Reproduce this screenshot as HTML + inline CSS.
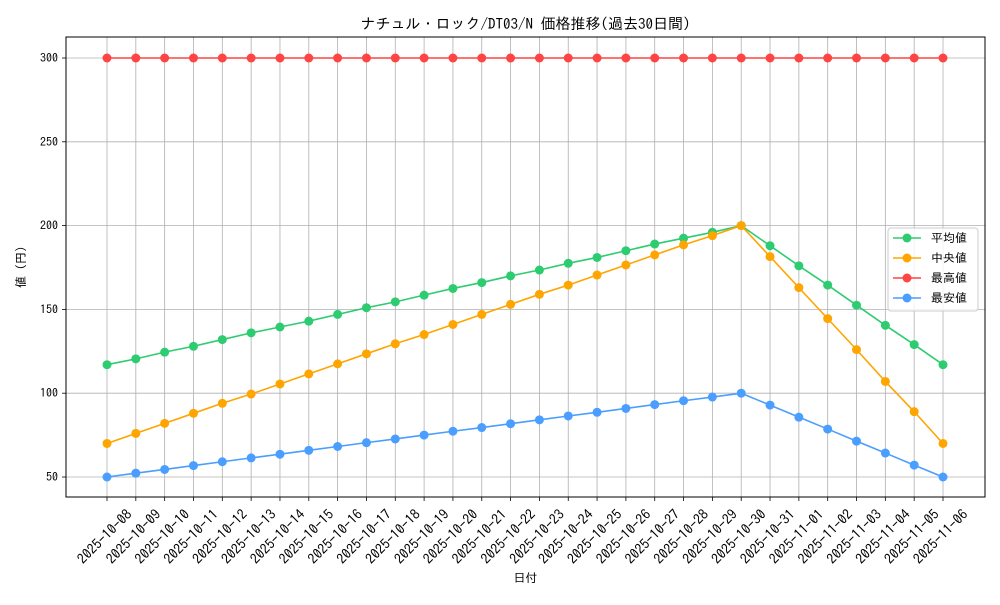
<!DOCTYPE html>
<html><head><meta charset="utf-8"><style>
body{margin:0;background:#fff;}
svg text{font-family:"IPAGothic","Noto Sans CJK JP",monospace;fill:#000;}
</style></head><body>
<svg id="chart" width="1000" height="600" xmlns="http://www.w3.org/2000/svg"></svg>
<script>
const dates=["2025-10-08","2025-10-09","2025-10-10","2025-10-11","2025-10-12","2025-10-13","2025-10-14","2025-10-15","2025-10-16","2025-10-17","2025-10-18","2025-10-19","2025-10-20","2025-10-21","2025-10-22","2025-10-23","2025-10-24","2025-10-25","2025-10-26","2025-10-27","2025-10-28","2025-10-29","2025-10-30","2025-10-31","2025-11-01","2025-11-02","2025-11-03","2025-11-04","2025-11-05","2025-11-06"];
const avgValues=[117,120.5,124.5,128,132,136,139.5,143,147,151,154.5,158.5,162.5,166,170,173.5,177.5,181,185,189,192.5,196,200,188,176,164.5,152.5,140.5,129,117];
const medianValues=[70,76,82,88,94,99.5,105.5,111.5,117.5,123.5,129.5,135,141,147,153,159,164.5,170.5,176.5,182.5,188.5,194,200,181.5,163,144.5,126,107,89,70];
const maxValues=[300,300,300,300,300,300,300,300,300,300,300,300,300,300,300,300,300,300,300,300,300,300,300,300,300,300,300,300,300,300];
const minValues=[50,52.3,54.5,56.8,59.1,61.4,63.6,65.9,68.2,70.5,72.7,75,77.3,79.5,81.8,84.1,86.4,88.6,90.9,93.2,95.5,97.7,100,92.9,85.7,78.6,71.4,64.3,57.1,50];
const yTicks=[50,100,150,200,250,300];
const seriesNames=["平均値","中央値","最高値","最安値"];

const svg=document.getElementById('chart');
const NS="http://www.w3.org/2000/svg";
const L=66,R=985,T=37,B=497;
const xS=i=>107+i*(943-107)/(dates.length-1);
const yS=v=>477-(v-50)*(477-58)/250;
function mk(tag,attrs,parent){const e=document.createElementNS(NS,tag);for(const k in attrs)e.setAttribute(k,attrs[k]);(parent||svg).appendChild(e);return e;}

const title=mk('text',{x:(L+R)/2,y:29,'text-anchor':'middle','font-size':15});
title.textContent="ナチュル・ロック/DT03/N 価格推移(過去30日間)";



const grid=mk('g',{});


dates.forEach((d,i)=>{
  mk('line',{x1:xS(i),x2:xS(i),y1:T,y2:B,stroke:'#b0b0b0','stroke-width':0.8},grid);
  mk('line',{x1:xS(i),x2:xS(i),y1:B,y2:B+4,stroke:'#000','stroke-width':0.8});
  const t=mk('text',{x:0,y:0,'text-anchor':'middle','font-size':14,transform:`translate(${xS(i)+1},${B+43}) rotate(-45)`});
  t.textContent=d;
  
  
});
yTicks.forEach(v=>{
  mk('line',{x1:L,x2:R,y1:yS(v),y2:yS(v),stroke:'#b0b0b0','stroke-width':0.8},grid);
  mk('line',{x1:L-4,x2:L,y1:yS(v),y2:yS(v),stroke:'#000','stroke-width':0.8});
  const t=mk('text',{x:L-8,y:yS(v)+4,'text-anchor':'end','font-size':12});
  t.textContent=v;
  
  
});
const frame=mk('rect',{x:L,y:T,width:R-L,height:B-T,fill:'none',stroke:'#000','stroke-width':1});



const series=[[avgValues,'#2ecc71'],[medianValues,'#ffa500'],[maxValues,'#ff4444'],[minValues,'#4a9eff']];
series.forEach(([vals,c],si)=>{
  const g=mk('g',{});
  
  
  mk('polyline',{points:vals.map((v,i)=>xS(i)+','+yS(v)).join(' '),fill:'none',stroke:c,'stroke-width':1.6},g);
  vals.forEach((v,i)=>{
    const p=mk('circle',{cx:xS(i),cy:yS(v),r:4.5,fill:c},g);
    
    
  });
});

const xl=mk('text',{x:(L+R)/2,y:582,'text-anchor':'middle','font-size':12});
xl.textContent="日付";


const yl=mk('text',{x:0,y:0,'text-anchor':'middle','font-size':12,transform:`translate(25,267) rotate(-90)`});
yl.textContent="値 (円)";



const lg=mk('g',{});


mk('rect',{x:888,y:228,width:90,height:83,rx:3,fill:'#fff','fill-opacity':0.8,stroke:'#ccc'},lg);
series.forEach(([v,c],i)=>{
  const y=238+i*20;
  mk('line',{x1:893,x2:921,y1:y,y2:y,stroke:c,'stroke-width':1.6},lg);
  mk('circle',{cx:907,cy:y,r:4.5,fill:c},lg);
  const t=mk('text',{x:931,y:y+4,'font-size':12},lg);
  t.textContent=seriesNames[i];
  
  
});
</script>
</body></html>
